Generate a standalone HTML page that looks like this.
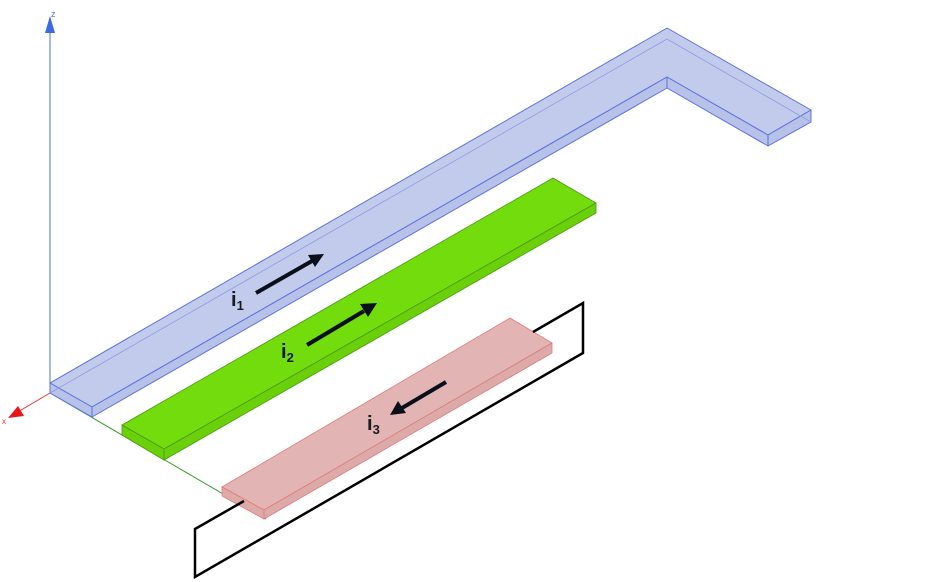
<!DOCTYPE html>
<html><head><style>body{margin:0;background:#fff}svg{display:block}</style></head><body>
<svg width="934" height="582" viewBox="0 0 934 582" xmlns="http://www.w3.org/2000/svg" font-family="Liberation Sans, sans-serif">
<!-- axes -->
<line x1="50" y1="393" x2="50" y2="28" stroke="#4a72e0" stroke-width="1"/>
<polygon points="50,16 45,33 55,33" fill="#3d6ae0"/>
<text x="51" y="17" font-size="9" fill="#4a72e0">z</text>
<line x1="50" y1="393" x2="16" y2="413" stroke="#e83030" stroke-width="1"/>
<polygon points="8,418 18,406 24,416" fill="#e81818"/>
<text x="2" y="424" font-size="8" fill="#e83030">x</text>
<line x1="50" y1="393" x2="266" y2="519" stroke="#3a9a2a" stroke-width="1"/>
<!-- blue bar -->
<g stroke="#5a72dc" stroke-width="1" stroke-linejoin="round">
<polygon points="50,383 667,28 811,110 768,135 667,77 92,407" fill="#c3cbec"/>
<polygon points="92,407 667,77 667,88 92,417" fill="#b8c1e8"/>
<polygon points="667,77 768,135 768,146 667,88" fill="#b8c1e8"/>
<polygon points="50,383 92,407 92,417 50,393" fill="#b8c1e8"/>
<polygon points="768,135 811,110 811,122 768,146" fill="#b8c1e8"/>
<polyline points="50,393 667,39 811,122" fill="none" stroke="#8a9ce6" stroke-width="0.8"/>
</g>
<!-- green bar -->
<g stroke="#4a9a10" stroke-width="0.8">
<polygon points="122,425 553,178 596,203 164,449" fill="#72dc0c"/>
<polygon points="164,449 596,203 596,213 164,460" fill="#6ad00a"/>
<polygon points="122,425 164,449 164,460 122,435" fill="#6ad00a"/>
</g>
<!-- red bar -->
<g stroke="#e07a7a" stroke-width="0.8">
<polygon points="222,487 510,318 552,343 264,510" fill="#e0b0b0" fill-opacity="0.95"/>
<polygon points="264,510 552,343 552,353 264,519" fill="#ddaaaa"/>
<polygon points="222,487 264,510 264,519 222,496" fill="#ddaaaa"/>
</g>
<!-- loop -->
<polyline points="244,501 195,529 195,577 583,353 583,303 533,332" fill="none" stroke="#000" stroke-width="2.5"/>
<!-- arrows -->
<g stroke="#0b0f1a" stroke-width="4" fill="#0b0f1a">
<line x1="256" y1="293" x2="312" y2="261"/>
<line x1="307" y1="345" x2="364" y2="311"/>
<line x1="446" y1="382" x2="402" y2="408"/>
</g>
<g fill="#0b0f1a">
<polygon points="324,254 308,255 315,267"/>
<polygon points="377,303 360,304 368,317"/>
<polygon points="390,415 398,401 406,413"/>
</g>
<g font-weight="bold" fill="#1a1a22">
<text x="231" y="306" font-size="20">i<tspan font-size="13" dy="4">1</tspan></text>
<text x="281" y="358" font-size="20">i<tspan font-size="13" dy="4">2</tspan></text>
<text x="367" y="430" font-size="20">i<tspan font-size="13" dy="4">3</tspan></text>
</g>
</svg>
</body></html>
